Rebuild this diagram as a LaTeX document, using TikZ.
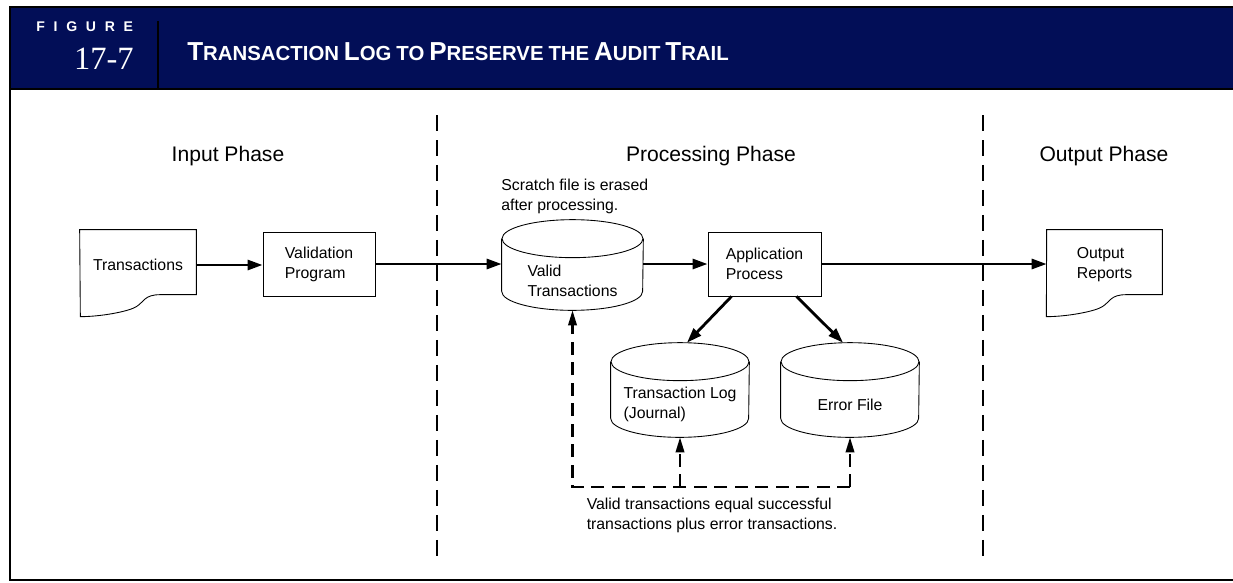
\documentclass[tikz,border=0pt]{standalone}
\usepackage{fontspec}
\setmainfont{Liberation Sans}
\newfontfamily\numfont{Liberation Serif}
\usetikzlibrary{shapes.geometric, arrows.meta, positioning, calc}
\definecolor{HeadBlue}{HTML}{020E57}

% small caps made by hand: first letter big, the rest small
\newcommand\capword[2]{{\fontsize{14.8}{16}\selectfont #1}{\fontsize{11.6}{13}\selectfont #2}}
\newcommand\lowword[1]{{\fontsize{11.6}{13}\selectfont #1}}

% outline of a document (wavy bottom edge)
\newcommand\docoutline[1]{%
  \draw[thinline] (#1.north west) -- (#1.north east) -- ++(0,65) -- ++(-36,0)
    .. controls +(-16,0) and +(8,-5) .. ++(-24,12)
    .. controls +(-8,5) and +(20,0) .. ++(-56,10) -- cycle;}

% outline of a disk file round a db node, #2 = half its width
\newcommand\dbshape[2]{%
  \draw[thinline] ($(#1.north west)+(0,19)$) -- ($(#1.south west)+(0,-19)$)
    arc[start angle=180, end angle=360, x radius=#2, y radius=0.38cm]
    -- ($(#1.north east)+(0,19)$);
  \draw[thinline] ($(#1.north)+(0,19)$) ellipse[x radius=#2, y radius=0.38cm];}

\begin{document}
\begin{tikzpicture}[x=0.02cm, y=-0.02cm, font=\fontsize{9}{11.4}\selectfont]
    \tikzstyle{thinline} = [line width=0.5pt]
    \tikzstyle{proc} = [rectangle, draw, thinline, minimum width=2.24cm, minimum height=1.28cm, align=left, inner sep=0pt]
    \tikzstyle{doc} = [rectangle, minimum width=2.32cm, minimum height=1.4cm, align=left, inner sep=0pt]
    \tikzstyle{db} = [rectangle, minimum width=2.76cm, minimum height=1.88cm, inner sep=0pt]
    \tikzstyle{dbtext} = [align=left, inner sep=0pt]
    \tikzstyle{flow} = [line width=1.6pt, -{Triangle[length=0.3cm, width=0.2cm]}]
    \tikzstyle{fback} = [line width=1.2pt, dash pattern=on 0.26cm off 0.15cm, -{Triangle[length=0.3cm, width=0.17cm]}]
    \tikzstyle{phaseline} = [line width=1.5pt, dash pattern=on 0.32cm off 0.18cm]
    \tikzstyle{phase} = [font=\fontsize{12}{14}\selectfont]
    \tikzstyle{note} = [align=left, inner sep=0pt]

    \useasboundingbox (0,0) rectangle (1233,582);

    % frame and header
    \fill[HeadBlue] (10,7) rectangle (1233,89);
    \draw[line width=1.2pt] (10,7) -- (1233,7);
    \draw[line width=1.6pt] (10,89) -- (1233,89);
    \draw[line width=1.4pt] (10,6) -- (10,580) -- (1233,580);
    \draw[line width=1.2pt] (158,21) -- (158,89);
    \node[anchor=west, text=white, inner sep=0pt, font=\bfseries\fontsize{8}{9}\selectfont\addfontfeature{LetterSpace=62}] (figlbl) at (36,27) {FIGURE};
    \node[anchor=east, text=white, inner sep=0pt, font=\numfont\fontsize{18.5}{20}\selectfont] (fignum) at (134,59) {17-7};
    \node[anchor=west, text=white, inner sep=0pt, font=\bfseries] (title) at (187,52)
        {\capword{T}{RANSACTION} \capword{L}{OG} \lowword{TO} \capword{P}{RESERVE} \lowword{THE} \capword{A}{UDIT} \capword{T}{RAIL}};

    % phases
    \node[phase] (inph) at (228,156) {Input Phase};
    \node[phase] (procph) at (711,156) {Processing Phase};
    \node[phase] (outph) at (1104,156) {Output Phase};
    \draw[phaseline] (437,115) -- (437,556);
    \draw[phaseline] (983,115) -- (983,556);

    % main flow
    \node[doc] (trans) at (138,265) {Transactions};
    \node[proc] (val) at (319,264) {Validation\\Program};
    \node[db, minimum width=2.82cm, minimum height=1.8cm,
          label={[dbtext, yshift=-0.32cm]center:{Valid\\Transactions}}] (valid) at (572.5,265) {};
    \node[proc, minimum width=2.26cm] (app) at (764.5,264) {Application\\Process};
    \node[doc, minimum width=2.3cm] (out) at (1104.5,265) {Output\\Reports};
    \docoutline{trans}
    \docoutline{out}
    \dbshape{valid}{1.41cm}

    % files written by the application
    \node[db, label={[dbtext, yshift=-0.28cm]center:{Transaction Log\\(Journal)}}] (tlog) at (680,390) {};
    \node[db, label={[dbtext, yshift=-0.3cm]center:{Error File}}] (err) at (850,390) {};
    \dbshape{tlog}{1.38cm}
    \dbshape{err}{1.38cm}

    \node[note, anchor=west] (scratch) at (501,196) {Scratch file is erased\\after processing.};
    \node[note] (sumnote) at (712,515) {Valid transactions equal successful\\transactions plus error transactions.};

    \draw[flow] (trans.east) -- (trans.east -| val.west);
    \draw[flow] (val.east) -- (val.east -| valid.west);
    \draw[flow] (valid.east |- val.east) -- (val.east -| app.west);
    \draw[flow] (app.east) -- (app.east -| out.west);
    \draw[flow] ($(app.south)+(-33,0)$) -- ($(tlog.north)+(7,0)$);
    \draw[flow] ($(app.south)+(32,0)$) -- ($(err.north)+(-7,0)$);

    % dashed feedback to the files
    \coordinate (fb) at (572.5,487);
    \draw[fback] (err.south |- fb) -- (fb) -- (valid.south);
    \draw[fback] (tlog.south |- fb) -- (tlog.south);
    \draw[fback] (err.south |- fb) -- (err.south);
\end{tikzpicture}
\end{document}
